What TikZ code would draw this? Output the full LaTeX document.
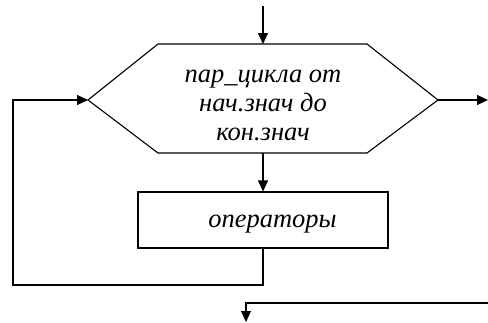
\documentclass[tikz,border=0pt]{standalone}
\usepackage{fontspec}
\setmainfont{Liberation Serif}
\usetikzlibrary{arrows.meta}
\begin{document}
\begin{tikzpicture}[x=1pt,y=-1pt,line width=1.1pt,
  >={Triangle[length=11pt,width=10pt]},
  lbl/.style={font=\fontsize{26.5}{29}\selectfont\itshape,align=center,inner sep=0pt},
  box/.style={draw,minimum width=250pt,minimum height=56pt,inner sep=0pt}]
\useasboundingbox (0,0) rectangle (488,322);
\coordinate (top) at (263,6);
\coordinate (hT) at (263,44);
\coordinate (hB) at (263,153);
\coordinate (hL) at (88,100);
\coordinate (hR) at (438,100);
\coordinate (exitR) at (488,100);
\coordinate (lb) at (263,285);
\coordinate (ll) at (13,285);
\coordinate (lt) at (13,100);
\coordinate (inR) at (488,303);
\coordinate (turn) at (246,303);
\coordinate (outB) at (246,322);
\draw (158,44) -- (367,44) -- (hR) -- (367,153) -- (158,153) -- (hL) -- cycle;
\node[lbl] (hex) at (263,105) {пар\_цикла от\\нач.знач до\\кон.знач};
\node[box] (ops) at (263,220) {};
\node[lbl,anchor=base] (opsT) at (272.5,227) {операторы};
\draw[->] (top) -- (hT);
\draw[->] (hR) -- (exitR);
\draw[->] (hB) -- (ops.north);
\draw[->] (ops.south) -- (lb) -- (ll) -- (lt) -- (hL);
\draw[->] (inR) -- (turn) -- (outB);
\end{tikzpicture}
\end{document}
